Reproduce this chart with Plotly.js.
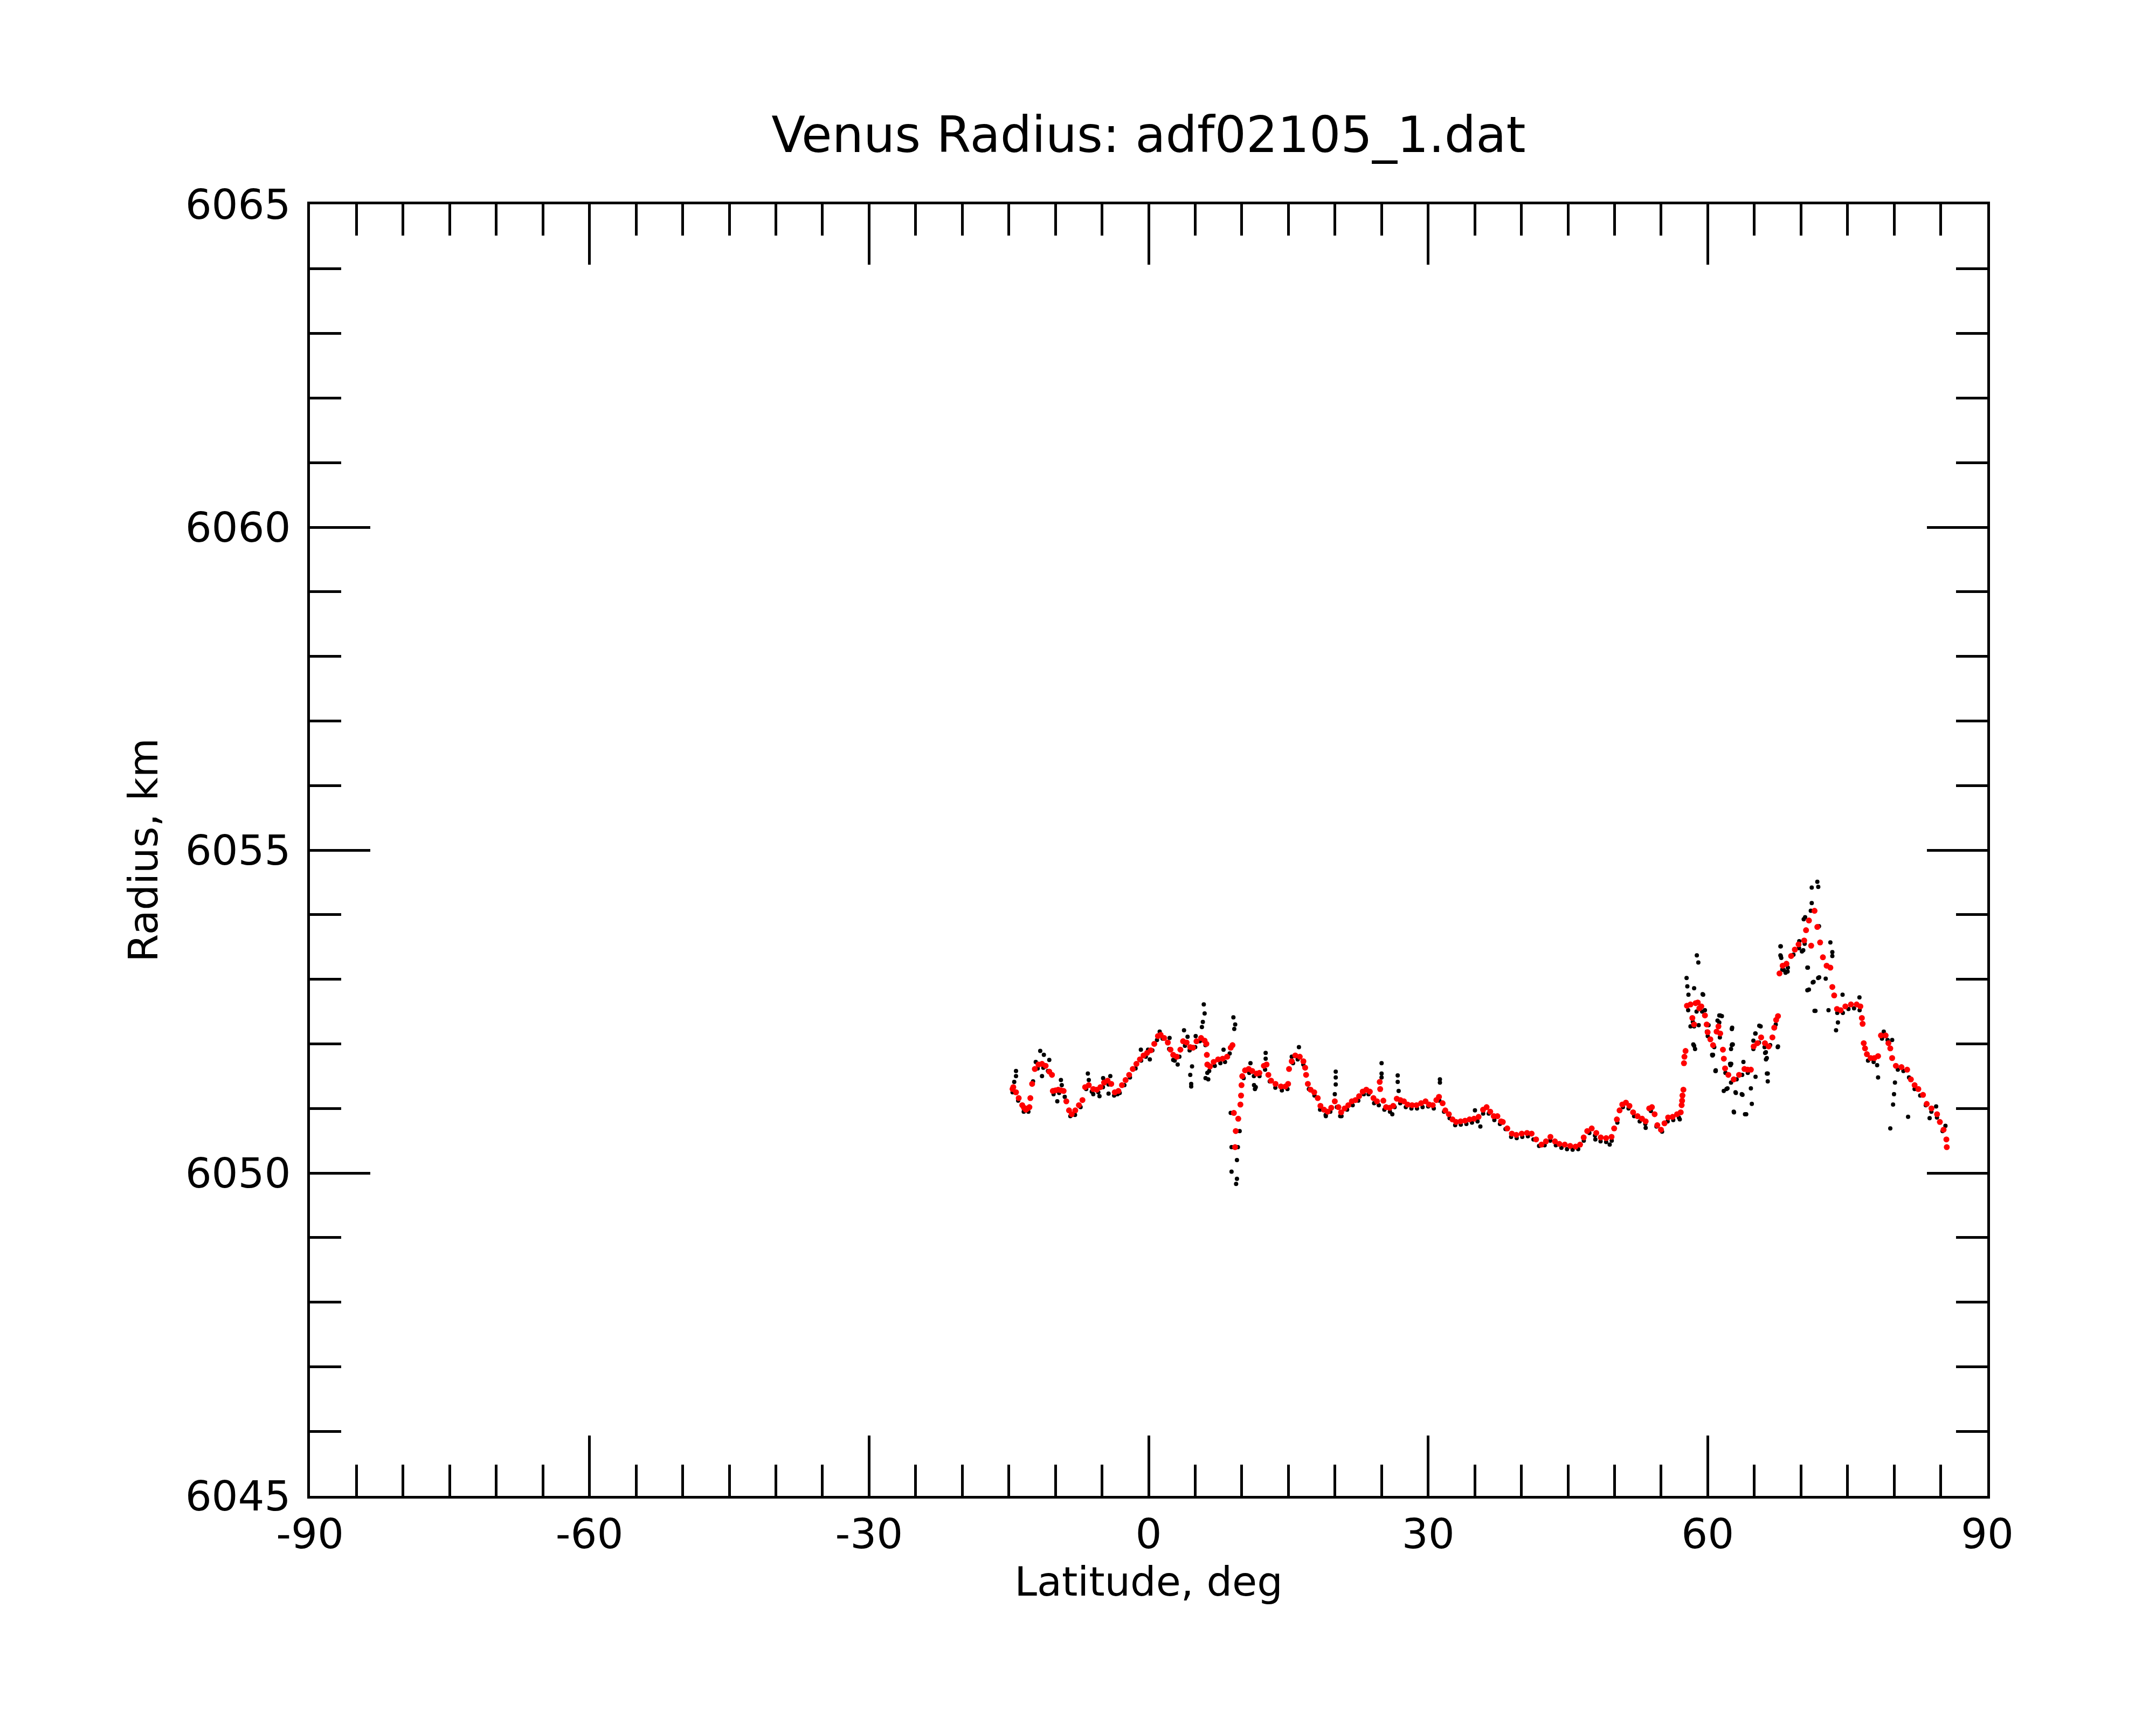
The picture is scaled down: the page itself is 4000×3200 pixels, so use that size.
<!DOCTYPE html>
<html>
<head>
<meta charset="utf-8">
<script src="https://cdn.plot.ly/plotly-3.0.1.min.js"></script>
<style>
    html, body { margin: 0; padding: 0; background: white; }
</style>
</head>
<body>
<div id="chart"></div>
<script>
// Axis ticks
const xTickValues = [-90, -60, -30, 0, 30, 60, 90]
const xTickLabels = ["-90", "-60", "-30", "0", "30", "60", "90"]
const yTickValues = [6045, 6050, 6055, 6060, 6065]

// Smoothed radius profile (red), latitude in deg, radius in km
const redLat = [
    -14.6, -14.52, -14.23, -13.94, -13.56, -13.37, -13.17, -12.98, -12.79, -12.69, -12.5, -12.21, -11.82, -11.44, -11.05, -10.66, -10.37,
    -10.28, -10.0, -9.70, -9.41, -9.12, -8.83, -8.54, -8.25, -7.87, -7.48, -7.10, -6.81, -6.42, -5.94, -5.56, -5.17, -4.78, -4.40, -4.01, -3.63,
    -3.24, -2.86, -2.47, -2.09, -1.70, -1.31, -0.93, -0.54, -0.16, 0.23, 0.61, 1.00, 1.29, 1.67, 2.06, 2.35, 2.64, 3.02, 3.41, 3.70,
    4.08, 4.47, 4.76, 5.14, 5.63, 6.01, 6.20, 6.25, 6.30, 6.59, 6.98, 7.46, 7.94, 8.42, 8.81, 9.00,
    9.15, 9.28, 9.35, 9.62, 9.85, 9.92, 9.97, 10.05, 10.35, 10.74, 11.12, 11.6,
    11.89, 12.37, 12.66, 12.85, 13.14, 13.62, 14.20, 14.68, 14.97, 15.07, 15.36, 15.74, 16.22, 16.61, 16.80, 16.90, 17.09, 17.38,
    17.77, 18.15, 18.44, 18.83, 19.21, 19.60, 19.98, 20.37, 20.66, 21.04, 21.43, 21.81, 22.20, 22.59, 22.97, 23.36, 23.74, 24.13,
    24.51, 24.80, 24.85, 25.19, 25.48, 25.86, 26.25, 26.63, 27.02, 27.40, 27.79, 28.27, 28.75, 29.24, 29.72, 30.10, 30.49, 30.88,
    31.16, 31.55, 31.84, 32.22, 32.61, 33.00, 33.48, 33.96, 34.44, 34.92, 35.41, 35.89, 36.27, 36.66, 37.04, 37.43,
    37.82, 38.01, 38.49, 38.98, 39.46, 40.04, 40.61, 41.10, 41.58, 42.16, 42.64, 43.12, 43.60, 44.08, 44.66, 45.24, 45.82, 46.30,
    46.69, 47.07, 47.55, 48.04, 48.52, 49.10, 49.68, 49.96, 50.25, 50.54, 50.83, 51.22, 51.60, 51.99, 52.47, 52.95, 53.34, 53.72,
    54.01, 54.30, 54.59, 54.98, 55.36, 55.75, 56.23, 56.71, 57.10, 57.20, 57.25, 57.29, 57.39, 57.45, 57.50, 57.62,
    57.77, 58.15, 58.35, 58.54, 58.7, 58.93, 59.1, 59.31, 59.70, 59.89, 59.99, 60.28, 60.57, 60.95, 61.15, 61.34, 61.63, 61.73, 61.86,
    62.21, 62.79, 63.36, 63.94,
    64.28, 64.63, 64.93, 65.33, 65.73, 66.14, 66.54, 66.94, 67.14, 67.34, 67.54, 67.70, 68.04, 68.45, 68.95, 69.35, 69.75, 70.35,
    70.55, 70.86, 71.10, 71.46, 71.76, 72.06, 72.36, 72.76, 73.16, 73.37, 73.57, 73.87, 74.27, 74.77, 75.37, 75.98, 76.38, 76.54,
    76.62, 76.74, 76.88, 77.08, 77.48, 77.88, 78.28, 78.59, 79.09, 79.39, 79.59, 79.79, 80.19, 80.79, 81.40, 81.80, 82.20, 82.60,
    83.10, 83.50, 84.01, 84.61, 84.91, 85.31, 85.61, 85.65
]
const redRadius = [
    6051.30, 6051.33, 6051.25, 6051.16, 6051.05, 6051.01, 6050.98, 6051.00, 6051.02, 6051.16, 6051.38, 6051.61, 6051.68, 6051.69, 6051.66, 6051.57, 6051.52,
    6051.27, 6051.28, 6051.29, 6051.28, 6051.27, 6051.11, 6050.97, 6050.91, 6050.97, 6051.05, 6051.13, 6051.33, 6051.36, 6051.30, 6051.29, 6051.33, 6051.40, 6051.43, 6051.38, 6051.25,
    6051.27, 6051.36, 6051.44, 6051.52, 6051.61, 6051.69, 6051.76, 6051.82, 6051.86, 6051.90, 6052.00, 6052.12, 6052.14, 6052.09, 6052.02, 6051.91, 6051.83, 6051.80, 6051.91, 6052.04,
    6052.02, 6051.95, 6051.94, 6052.04, 6052.09, 6052.05, 6052.00, 6051.83, 6051.68, 6051.65, 6051.72, 6051.76, 6051.77, 6051.80, 6051.94, 6051.98,
    6050.93, 6050.40, 6050.65, 6050.84, 6051.06, 6051.20, 6051.36, 6051.50, 6051.59, 6051.61, 6051.58, 6051.54,
    6051.55, 6051.66, 6051.68, 6051.52, 6051.43, 6051.38, 6051.34, 6051.34, 6051.38, 6051.61, 6051.73, 6051.82, 6051.80, 6051.73, 6051.63, 6051.52, 6051.38, 6051.29,
    6051.25, 6051.16, 6051.04, 6050.98, 6050.95, 6051.01, 6051.11, 6051.02, 6050.94, 6051.00, 6051.05, 6051.11, 6051.13, 6051.19, 6051.26, 6051.29, 6051.26, 6051.16,
    6051.11, 6051.41, 6051.30, 6051.12, 6051.02, 6051.01, 6051.04, 6051.15, 6051.13, 6051.11, 6051.06, 6051.05, 6051.05, 6051.08, 6051.11, 6051.06, 6051.05, 6051.13,
    6051.18, 6051.08, 6050.97, 6050.91, 6050.83, 6050.79, 6050.80, 6050.81, 6050.83, 6050.84, 6050.87, 6050.98, 6051.02, 6050.95, 6050.88, 6050.88,
    6050.80, 6050.79, 6050.69, 6050.61, 6050.59, 6050.61, 6050.62, 6050.61, 6050.52, 6050.44, 6050.49, 6050.56, 6050.49, 6050.45, 6050.44, 6050.42, 6050.41, 6050.44,
    6050.55, 6050.65, 6050.69, 6050.62, 6050.55, 6050.54, 6050.56, 6050.69, 6050.83, 6050.97, 6051.06, 6051.09, 6051.04, 6050.94, 6050.88, 6050.84, 6050.80, 6051.00,
    6051.02, 6050.91, 6050.74, 6050.67, 6050.77, 6050.86, 6050.87, 6050.91, 6050.94, 6051.05, 6051.12, 6051.20, 6051.29, 6051.70, 6051.80, 6051.89,
    6052.59, 6052.61, 6052.40, 6052.30, 6052.63, 6052.64, 6052.55, 6052.58, 6052.44, 6052.30, 6052.18, 6052.07, 6051.98, 6052.19, 6052.27, 6052.16, 6051.91, 6051.77, 6051.62,
    6051.52, 6051.45, 6051.52, 6051.61,
    6051.60, 6051.60, 6051.96, 6052.01, 6052.10, 6052.01, 6051.96, 6052.10, 6052.25, 6052.37, 6052.43, 6053.09, 6053.21, 6053.24, 6053.36, 6053.46, 6053.54, 6053.60,
    6053.76, 6053.91, 6053.52, 6054.06, 6053.81, 6053.57, 6053.34, 6053.21, 6053.18, 6052.88, 6052.75, 6052.54, 6052.52, 6052.58, 6052.61, 6052.61, 6052.58, 6052.40,
    6052.31, 6052.01, 6051.93, 6051.84, 6051.78, 6051.78, 6051.81, 6052.13, 6052.13, 6052.01, 6051.93, 6051.78, 6051.66, 6051.64, 6051.60, 6051.45, 6051.36, 6051.30,
    6051.21, 6051.07, 6051.00, 6050.91, 6050.79, 6050.67, 6050.52, 6050.40
]

// Raw samples (black) that sit just under the smoothed profile
const trackLat = [
    -14.6, -14.0, -13.4, -12.9, -12.4, -11.9, -11.3, -10.8, -10.2, -9.6, -9.0, -8.4, -7.9, -7.3, -6.7, -6.1, -5.4, -4.9, -4.3, -3.7,
    -3.1, -2.6, -2.0, -1.4, -0.8, -0.3, 0.4, 0.9, 1.5, 2.2, 2.8, 3.3, 3.9, 4.4, 5.0, 5.5, 6.1, 6.5, 7.1, 7.7, 8.2, 8.7,
    10.2, 10.8, 11.3, 11.9, 12.5, 13.0, 13.6, 14.3, 14.9, 15.5, 16.0, 16.6, 17.2, 17.8, 18.4, 19.0, 19.5, 20.2, 20.7, 21.3,
    21.9, 22.5, 23.1, 23.6, 24.2, 24.7, 25.3, 25.9, 26.4, 27.0, 27.6, 28.2, 28.8, 29.4, 30.0, 30.6, 31.2, 31.7, 32.3, 32.9,
    33.5, 34.1, 34.7, 35.3, 35.9, 36.5, 37.1, 37.7, 38.3, 38.9, 39.5, 40.1, 40.7, 41.3, 41.9, 42.5, 43.1, 43.7, 44.3, 44.9,
    45.5, 46.1, 46.7, 47.3, 47.9, 48.5, 49.1, 49.7, 50.3, 50.9, 51.5, 52.1, 52.7, 53.3, 53.9, 54.5, 55.1, 55.7, 56.3, 56.9,
    57.9, 58.4, 58.8, 59.4, 60.0, 60.7, 61.3, 61.9, 62.5, 63.1, 63.7, 64.3, 64.9, 65.5, 66.1, 66.7, 67.3, 68.0, 68.6, 69.2,
    69.8, 70.4, 73.9, 74.5, 75.1, 75.7, 76.3, 77.2, 77.8, 78.7, 79.3, 80.4, 81.0, 81.6, 82.2, 82.8, 83.4, 84.0, 84.6, 85.2
]
const trackRadius = [
    6051.25, 6051.12, 6050.95, 6050.95, 6051.42, 6051.62, 6051.63, 6051.58, 6051.22, 6051.24, 6051.18, 6050.88, 6050.90, 6051.02, 6051.30, 6051.26, 6051.25, 6051.33, 6051.37, 6051.20,
    6051.24, 6051.36, 6051.48, 6051.62, 6051.74, 6051.80, 6051.90, 6052.06, 6052.08, 6051.92, 6051.74, 6051.80, 6051.97, 6051.90, 6051.95, 6052.04, 6051.98, 6051.58, 6051.66, 6051.70, 6051.72, 6051.85,
    6051.47, 6051.55, 6051.50, 6051.50, 6051.60, 6051.42, 6051.32, 6051.28, 6051.30, 6051.70, 6051.76, 6051.68, 6051.30, 6051.20, 6050.98, 6050.90, 6050.95, 6051.02, 6050.88, 6050.98,
    6051.05, 6051.12, 6051.22, 6051.22, 6051.08, 6051.05, 6050.98, 6050.95, 6051.02, 6051.08, 6051.02, 6051.00, 6051.00, 6051.02, 6051.03, 6051.00, 6051.12, 6050.95, 6050.85, 6050.74,
    6050.75, 6050.76, 6050.78, 6050.80, 6050.92, 6050.92, 6050.82, 6050.76, 6050.68, 6050.56, 6050.54, 6050.56, 6050.57, 6050.52, 6050.42, 6050.43, 6050.50, 6050.43, 6050.39, 6050.37,
    6050.36, 6050.37, 6050.50, 6050.62, 6050.58, 6050.49, 6050.48, 6050.50, 6050.78, 6051.02, 6051.00, 6050.88, 6050.80, 6050.76, 6050.96, 6050.72, 6050.64, 6050.80, 6050.82, 6050.86,
    6052.52, 6052.34, 6052.50, 6052.50, 6052.12, 6051.95, 6052.10, 6051.55, 6051.40, 6051.45, 6051.52, 6051.55, 6051.92, 6052.02, 6051.95, 6051.98, 6052.30, 6053.15, 6053.18, 6053.38,
    6053.48, 6053.55, 6052.48, 6052.48, 6052.54, 6052.55, 6052.52, 6051.74, 6051.72, 6052.08, 6052.06, 6051.60, 6051.58, 6051.48, 6051.30, 6051.20, 6051.05, 6050.95, 6050.86, 6050.65
]

// Raw samples (black) scattered away from the profile
const outlierLat = [
    -14.42, -14.23, -14.23, -12.11, -11.63, -11.24, -10.66, -11.44, -9.80, -9.41, -9.32, -6.52, -6.42, -5.94, -5.27, -4.88, -4.30, -4.11, -3.34,
    -0.83, -0.06, 0.13, 1.19, 2.25, 2.64, 3.12, 3.80, 4.18, 5.05, 4.66, 4.47, 4.57, 4.57, 5.92, 6.01, 5.82, 5.72, 6.30, 6.40, 6.11,
    8.04, 8.52, 9.10, 9.29, 9.19, 8.81, 9.77, 8.90, 9.58, 9.48, 8.90, 9.48, 9.39, 10.93, 11.31, 11.41,
    11.50, 12.56, 12.56, 16.13, 15.36, 20.08, 20.08, 20.08, 19.98, 19.02, 20.56, 25.00, 25.00, 25.00, 26.15, 26.73, 26.73, 26.83,
    31.26, 31.26, 35.02, 35.60,
    47.94, 49.48, 53.34, 57.00, 58.54, 58.54, 58.15, 60.09, 60.47, 60.86, 61.24, 61.24, 62.59, 62.59, 62.40, 62.01, 62.98, 63.65, 62.79, 64.00,
    58.83, 58.99, 57.73, 57.81, 58.54, 57.93, 59.45, 59.70, 61.34, 61.05, 62.59, 59.03, 58.45, 58.64, 60.57, 62.69, 62.50, 62.44, 60.86,
    65.68, 65.10, 64.90, 66.16, 66.25, 67.51, 66.35, 67.80, 67.80, 67.89, 68.18, 68.57, 70.11, 70.69, 71.27, 71.85, 70.69, 71.46, 70.30, 71.94, 69.82,
    71.76, 71.16, 71.86, 71.16, 70.45, 71.06, 67.84, 67.84, 68.35, 70.25, 70.75, 71.36, 70.86, 71.96, 72.66, 71.56, 72.96, 73.16, 73.37, 73.37,
    74.47, 76.28, 73.97, 73.77, 62.62, 62.62, 60.51, 60.82, 62.12, 63.02, 63.73, 62.82, 64.13, 64.73, 64.63, 65.13, 65.53, 66.34, 66.44, 66.44,
    67.54, 78.18, 78.28, 79.79, 80.09, 79.99, 79.89, 79.59, 81.50, 83.81, 84.51, 85.51, 59.51, 61.52, 62.52, 59.91, 61.72, 63.83, 65.13, 66.24, 78.89
]
const outlierRadius = [
    6051.41, 6051.58, 6051.50, 6051.72, 6051.89, 6051.83, 6051.75, 6051.50, 6051.11, 6051.44, 6051.36, 6051.54, 6051.44, 6051.22, 6051.19, 6051.47, 6051.23, 6051.50, 6051.22,
    6051.91, 6051.91, 6051.76, 6052.19, 6052.09, 6051.75, 6051.68, 6052.21, 6052.11, 6052.12, 6051.65, 6051.52, 6051.38, 6051.34, 6052.61, 6052.47, 6052.34, 6052.26, 6051.55, 6051.45, 6051.47,
    6051.91, 6051.80, 6052.41, 6052.30, 6052.23, 6050.93, 6050.65, 6050.40, 6050.40, 6050.20, 6050.02, 6049.91, 6049.83, 6051.70, 6051.36, 6051.30,
    6051.33, 6051.86, 6051.77, 6051.95, 6051.80, 6051.57, 6051.48, 6051.37, 6051.22, 6050.88, 6050.88, 6051.70, 6051.54, 6051.48, 6050.91, 6051.51, 6051.41, 6051.27,
    6051.45, 6051.40, 6050.97, 6050.72,
    6050.52, 6050.44, 6050.70, 6050.83, 6051.97, 6052.27, 6052.27, 6052.29, 6051.83, 6051.59, 6052.44, 6052.33, 6052.23, 6051.98, 6051.69, 6051.30, 6051.25, 6051.22, 6050.95, 6050.91,
    6053.37, 6053.26, 6053.02, 6052.89, 6052.86, 6052.76, 6052.77, 6052.52, 6052.44, 6052.36, 6052.23, 6052.29, 6051.99, 6051.92, 6051.83, 6051.99, 6051.92, 6051.67, 6051.58,
    6052.27, 6052.16, 6052.05, 6051.86, 6051.76, 6051.95, 6051.54, 6053.51, 6053.37, 6053.33, 6053.14, 6053.12, 6053.43, 6053.18, 6052.95, 6053.02, 6052.83, 6052.51, 6053.93, 6053.82, 6053.59,
    6054.51, 6054.42, 6054.43, 6054.18, 6053.96, 6054.06, 6053.51, 6053.36, 6053.10, 6053.45, 6053.18, 6052.96, 6052.84, 6053.03, 6053.01, 6052.51, 6052.52, 6053.57, 6053.42, 6053.36,
    6052.76, 6052.72, 6052.33, 6052.21, 6052.25, 6051.99, 6051.82, 6051.58, 6051.31, 6051.24, 6051.21, 6050.94, 6050.91, 6051.07, 6051.31, 6051.49, 6052.28, 6051.78, 6051.54, 6051.42,
    6051.96, 6051.67, 6051.48, 6052.06, 6051.40, 6051.22, 6051.06, 6050.69, 6050.87, 6050.85, 6051.03, 6050.73, 6052.76, 6052.43, 6051.69, 6052.19, 6051.27, 6051.72, 6052.16, 6051.87, 6052.19
]

function dotTrace(xs, ys, color, size) {
    return {
        x: xs,
        y: ys,
        type: 'scatter',
        mode: 'markers',
        hoverinfo: 'skip',
        showlegend: false,
        marker: {color: color, size: size, line: {width: 0}}
    }
}

const font = {family: 'DejaVu Sans, Verdana, sans-serif', color: 'black'}

function frameAxis(extra) {
    return Object.assign({
        showline: true,
        linewidth: 5,
        linecolor: 'black',
        mirror: 'ticks',
        showgrid: false,
        zeroline: false,
        ticks: 'inside',
        ticklen: 112,
        tickwidth: 5,
        tickcolor: 'black',
        tickfont: Object.assign({size: 77}, font),
        fixedrange: true
    }, extra)
}

const layout = {
    width: 4000,
    height: 3200,
    margin: {l: 575, r: 313, t: 379, b: 425},
    paper_bgcolor: 'white',
    plot_bgcolor: 'white',
    showlegend: false,
    font: Object.assign({size: 75}, font),
    title: {
        text: 'Venus Radius: adf02105_1.dat',
        font: Object.assign({size: 92}, font),
        x: 0.5,
        xref: 'paper',
        xanchor: 'center',
        y: 1 - 250 / 3200,
        yref: 'container',
        yanchor: 'middle'
    },
    xaxis: frameAxis({
        range: [-90, 90],
        tickmode: 'array',
        tickvals: xTickValues,
        ticktext: xTickLabels,
        ticklabelstandoff: 0,
        minor: {dtick: 5, ticks: 'inside', ticklen: 58, tickwidth: 5, tickcolor: 'black', showgrid: false},
        title: {text: 'Latitude, deg', font: Object.assign({size: 75}, font), standoff: 0}
    }),
    yaxis: frameAxis({
        range: [6045, 6065],
        tickmode: 'array',
        tickvals: yTickValues,
        ticklabelstandoff: 15,
        minor: {dtick: 1, ticks: 'inside', ticklen: 58, tickwidth: 5, tickcolor: 'black', showgrid: false},
        title: {text: 'Radius, km', font: Object.assign({size: 75}, font), standoff: 28}
    })
}

const traces = [
    dotTrace(trackLat, trackRadius, '#000000', 8),
    dotTrace(outlierLat, outlierRadius, '#000000', 8),
    dotTrace(redLat, redRadius, '#ff0000', 11)
]

Plotly.newPlot('chart', traces, layout, {staticPlot: true, displayModeBar: false})
</script>
</body>
</html>
